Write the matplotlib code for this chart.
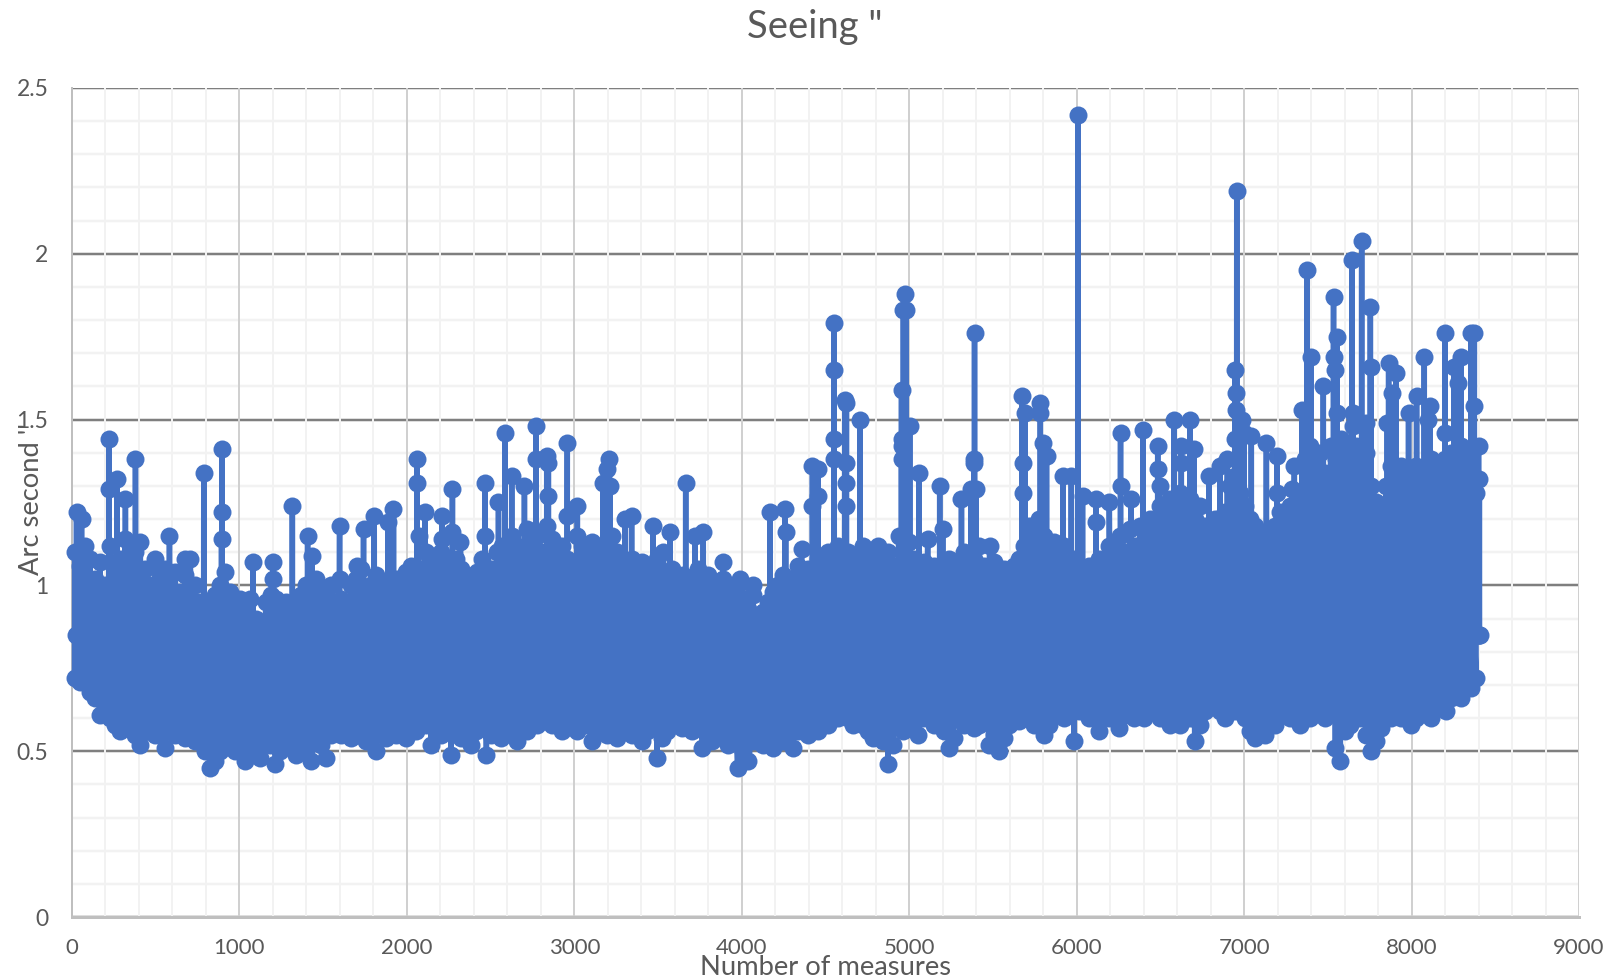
#!/usr/bin/env python
# -*- coding: utf-8 -*-
import matplotlib
matplotlib.use('Agg')
import matplotlib.pyplot as plt
import numpy as np
from matplotlib.ticker import MultipleLocator

# upper and lower edge of the dense band, one value per 30 measures
band_step = 30
band_high = [
    1.10, 1.06, 1.12, 1.08, 1.02, 1.07, 1.00, 1.12, 1.05, 1.08,
    1.14, 1.06, 1.10, 1.13, 1.05, 1.00, 1.08, 1.02, 1.05, 0.97,
    1.04, 0.98, 1.03, 1.08, 1.00, 0.95, 0.90, 0.93, 0.97, 1.00,
    1.04, 0.98, 0.93, 0.96, 0.92, 0.96, 0.90, 0.88, 0.95, 0.97,
    0.96, 0.92, 0.95, 0.90, 0.94, 0.97, 1.00, 0.96, 1.02, 0.98,
    0.97, 1.00, 0.94, 0.96, 0.93, 1.00, 1.02, 1.05, 0.98, 1.00,
    1.03, 0.98, 1.00, 0.96, 1.02, 1.00, 1.04, 1.06, 1.02, 1.05,
    1.10, 1.08, 1.05, 1.10, 1.06, 1.02, 1.08, 1.05, 1.03, 1.00,
    1.04, 1.08, 1.02, 1.05, 1.10, 1.12, 1.08, 1.15, 1.12, 1.10,
    1.17, 1.12, 1.15, 1.10, 1.18, 1.14, 1.10, 1.12, 1.08, 1.05,
    1.15, 1.12, 1.08, 1.13, 1.10, 1.07, 1.12, 1.15, 1.10, 1.08,
    1.05, 1.08, 1.03, 1.07, 1.02, 1.05, 1.08, 1.03, 1.00, 1.05,
    1.00, 1.03, 0.98, 1.02, 1.05, 1.00, 1.03, 0.98, 1.00, 1.02,
    1.00, 0.97, 1.00, 0.96, 0.93, 0.97, 0.90, 0.92, 0.95, 0.98,
    1.00, 1.03, 0.98, 1.02, 1.06, 1.00, 1.05, 1.02, 1.08, 1.05,
    1.10, 1.06, 1.12, 1.08, 1.10, 1.05, 1.08, 1.12, 1.06, 1.10,
    1.12, 1.08, 1.10, 1.06, 1.15, 1.10, 1.13, 1.08, 1.05, 1.07,
    1.04, 1.06, 1.02, 1.05, 1.08, 1.03, 1.06, 1.10, 1.05, 1.08,
    1.12, 1.06, 1.04, 1.07, 1.03, 1.05, 1.02, 1.06, 1.08, 1.12,
    1.18, 1.14, 1.20, 1.15, 1.10, 1.13, 1.08, 1.12, 1.05, 1.08,
    1.05, 1.02, 1.06, 1.03, 1.08, 1.05, 1.12, 1.08, 1.15, 1.10,
    1.17, 1.12, 1.18, 1.14, 1.20, 1.16, 1.24, 1.20, 1.26, 1.22,
    1.28, 1.22, 1.26, 1.20, 1.24, 1.18, 1.15, 1.20, 1.16, 1.22,
    1.30, 1.33, 1.28, 1.24, 1.20, 1.18, 1.15, 1.10, 1.14, 1.18,
    1.22, 1.18, 1.24, 1.20, 1.28, 1.38, 1.42, 1.36, 1.40, 1.34,
    1.42, 1.38, 1.44, 1.40, 1.38, 1.42, 1.36, 1.40, 1.30, 1.25,
    1.24, 1.30, 1.36, 1.32, 1.36, 1.34, 1.30, 1.36, 1.32, 1.34,
    1.38, 1.34, 1.36, 1.32, 1.40, 1.36, 1.42, 1.38, 1.30, 1.28,
]
band_low = [
    0.72, 0.71, 0.73, 0.68, 0.66, 0.61, 0.64, 0.60, 0.58, 0.56,
    0.58, 0.57, 0.55, 0.52, 0.56, 0.58, 0.55, 0.57, 0.51, 0.56,
    0.55, 0.57, 0.54, 0.55, 0.53, 0.56, 0.50, 0.45, 0.47, 0.50,
    0.52, 0.54, 0.50, 0.53, 0.47, 0.52, 0.50, 0.48, 0.53, 0.52,
    0.46, 0.50, 0.52, 0.54, 0.49, 0.53, 0.50, 0.47, 0.54, 0.52,
    0.48, 0.55, 0.57, 0.55, 0.58, 0.54, 0.55, 0.57, 0.53, 0.56,
    0.50, 0.56, 0.54, 0.58, 0.55, 0.57, 0.54, 0.58, 0.56, 0.60,
    0.58, 0.52, 0.57, 0.55, 0.58, 0.49, 0.56, 0.54, 0.58, 0.52,
    0.56, 0.58, 0.49, 0.55, 0.57, 0.54, 0.58, 0.56, 0.53, 0.57,
    0.56, 0.60, 0.58, 0.60, 0.62, 0.58, 0.60, 0.56, 0.61, 0.58,
    0.56, 0.60, 0.58, 0.53, 0.57, 0.60, 0.55, 0.58, 0.54, 0.58,
    0.57, 0.55, 0.59, 0.53, 0.56, 0.58, 0.48, 0.54, 0.56, 0.58,
    0.60, 0.57, 0.59, 0.56, 0.59, 0.51, 0.55, 0.53, 0.57, 0.55,
    0.52, 0.54, 0.45, 0.50, 0.47, 0.53, 0.56, 0.52, 0.55, 0.51,
    0.55, 0.53, 0.57, 0.51, 0.56, 0.58, 0.55, 0.57, 0.56, 0.60,
    0.58, 0.62, 0.60, 0.63, 0.60, 0.58, 0.62, 0.58, 0.56, 0.54,
    0.56, 0.53, 0.46, 0.52, 0.58, 0.56, 0.60, 0.58, 0.55, 0.60,
    0.60, 0.58, 0.62, 0.56, 0.51, 0.54, 0.60, 0.58, 0.62, 0.57,
    0.58, 0.60, 0.52, 0.55, 0.50, 0.54, 0.58, 0.60, 0.59, 0.62,
    0.60, 0.58, 0.62, 0.55, 0.58, 0.61, 0.62, 0.60, 0.64, 0.53,
    0.62, 0.64, 0.60, 0.63, 0.56, 0.62, 0.60, 0.63, 0.57, 0.61,
    0.64, 0.60, 0.63, 0.60, 0.65, 0.62, 0.60, 0.62, 0.58, 0.60,
    0.58, 0.62, 0.60, 0.53, 0.58, 0.62, 0.66, 0.64, 0.62, 0.60,
    0.65, 0.62, 0.66, 0.60, 0.56, 0.54, 0.57, 0.55, 0.60, 0.58,
    0.62, 0.66, 0.60, 0.63, 0.58, 0.62, 0.60, 0.64, 0.62, 0.60,
    0.62, 0.51, 0.47, 0.56, 0.58, 0.62, 0.60, 0.55, 0.50, 0.53,
    0.57, 0.62, 0.60, 0.63, 0.60, 0.62, 0.58, 0.60, 0.64, 0.62,
    0.60, 0.63, 0.64, 0.62, 0.66, 0.68, 0.66, 0.70, 0.69, 0.72,
]

# single measures that stand out above the band
peak_x = [
    27, 57, 220, 220, 270, 319, 379, 582, 677, 787, 896, 896, 893, 1080, 1200,
    1200, 1316, 1407, 1433, 1598, 1598, 1700, 1741, 1805, 1887, 1920, 2060,
    2060, 2070, 2109, 2209, 2209, 2272, 2272, 2320, 2467, 2467, 2547, 2586,
    2626, 2702, 2770, 2770, 2835, 2840, 2845, 2958, 2958, 3018, 3170, 3193,
    3209, 3213, 3303, 3342, 3471, 3532, 3571, 3665, 3720, 3770, 3889, 3989,
    4068, 4168, 4257, 4262, 4357, 4422, 4422, 4456, 4456, 4552, 4552, 4552,
    4552, 4615, 4625, 4625, 4625, 4625, 4705, 4954, 4955, 4955, 4955, 4965,
    4975, 4980, 5003, 5058, 5110, 5182, 5200, 5312, 5370, 5387, 5387, 5390,
    5400, 5480, 5675, 5680, 5680, 5690, 5783, 5783, 5800, 5820, 5918, 5968,
    6007, 6035, 6115, 6115, 6195, 6262, 6262, 6325, 6395, 6484, 6484, 6495,
    6580, 6625, 6625, 6678, 6700, 6789, 6855, 6900, 6945, 6945, 6950, 6952,
    6956, 6990, 7000, 7043, 7133, 7197, 7197, 7285, 7300, 7345, 7376, 7400,
    7473, 7534, 7534, 7545, 7555, 7555, 7644, 7650, 7650, 7702, 7725, 7754,
    7758, 7855, 7863, 7885, 7907, 7982, 8030, 8076, 8100, 8110, 8201, 8201,
    8201, 8255, 8275, 8295, 8355, 8375, 8375, 8400, 8405,
]
peak_y = [
    1.22, 1.20, 1.44, 1.29, 1.32, 1.26, 1.38, 1.15, 1.08, 1.34, 1.41, 1.22, 1.14, 1.07, 1.07,
    1.02, 1.24, 1.15, 1.09, 1.18, 1.02, 1.06, 1.17, 1.21, 1.19, 1.23, 1.38,
    1.31, 1.15, 1.22, 1.21, 1.14, 1.29, 1.16, 1.13, 1.31, 1.15, 1.25, 1.46,
    1.33, 1.30, 1.48, 1.38, 1.39, 1.27, 1.37, 1.43, 1.21, 1.24, 1.31, 1.35,
    1.38, 1.30, 1.20, 1.21, 1.18, 1.10, 1.16, 1.31, 1.15, 1.16, 1.07, 1.02,
    1.00, 1.22, 1.23, 1.16, 1.11, 1.36, 1.24, 1.35, 1.27, 1.79, 1.65, 1.44,
    1.38, 1.56, 1.55, 1.37, 1.31, 1.24, 1.50, 1.59, 1.44, 1.42, 1.38, 1.83,
    1.88, 1.83, 1.48, 1.34, 1.14, 1.30, 1.17, 1.26, 1.29, 1.38, 1.37, 1.76,
    1.29, 1.12, 1.57, 1.37, 1.28, 1.52, 1.55, 1.52, 1.43, 1.39, 1.33, 1.33,
    2.42, 1.27, 1.26, 1.19, 1.25, 1.46, 1.30, 1.26, 1.47, 1.42, 1.35, 1.30,
    1.50, 1.42, 1.37, 1.50, 1.41, 1.33, 1.36, 1.38, 1.65, 1.44, 1.58, 1.53,
    2.19, 1.50, 1.46, 1.45, 1.43, 1.39, 1.28, 1.29, 1.36, 1.53, 1.95, 1.69,
    1.60, 1.87, 1.69, 1.65, 1.75, 1.52, 1.98, 1.52, 1.48, 2.04, 1.49, 1.84,
    1.66, 1.49, 1.67, 1.58, 1.64, 1.52, 1.57, 1.69, 1.50, 1.54, 1.76, 1.46,
    1.38, 1.66, 1.61, 1.69, 1.76, 1.76, 1.54, 1.42, 1.32,
]
# level the series comes back to between two peaks
peak_base = 0.85

xticks = [0, 1000, 2000, 3000, 4000, 5000, 6000, 7000, 8000, 9000]
yticks = [0, 0.5, 1, 1.5, 2, 2.5]
ytick_labels = ['0', '0.5', '1', '1.5', '2', '2.5']

text_color = '#595959'
line_color = '#4472c4'
px = 0.72  # points per pixel at dpi 100

plt.rcParams['font.family'] = ['Lato', 'DejaVu Sans']

# zigzag through the band, then add the peaks in measure order
x = []
y = []
for i, (high, low) in enumerate(zip(band_high, band_low)):
    pos = 15 + i * band_step
    x += [pos, pos + 1]
    y += [low, high]
for pos, value in zip(peak_x, peak_y):
    x += [pos - 1, pos, pos + 1]
    y += [peak_base, value, peak_base]
x = np.array(x)
y = np.array(y)
order = np.argsort(x, kind='stable')

fig = plt.figure(figsize=(16.15, 9.8), dpi=100)
ax = fig.add_axes([72 / 1615, 1 - 917 / 980, (1579 - 72) / 1615, (917 - 88) / 980])

ax.plot(x[order], y[order], color=line_color, lw=5.5 * px, marker='o',
        ms=18 * px, mew=0, clip_on=False, zorder=3, solid_joinstyle='round')

ax.set_xlim(0, 9000)
ax.set_ylim(0, 2.5)
ax.set_xticks(xticks)
ax.set_yticks(yticks)
ax.set_yticklabels(ytick_labels)
ax.xaxis.set_minor_locator(MultipleLocator(200))
ax.yaxis.set_minor_locator(MultipleLocator(0.1))

ax.grid(True, which='major', axis='y', color='#7f7f7f', lw=2.5 * px)
ax.grid(True, which='minor', axis='y', color='#f2f2f2', lw=2.5 * px)
ax.grid(True, which='major', axis='x', color='#d0d0d0', lw=2 * px)
ax.grid(True, which='minor', axis='x', color='#f2f2f2', lw=2 * px)
ax.set_axisbelow(True)
ax.yaxis.set_zorder(0.4)
ax.xaxis.set_zorder(0.45)

for name in ['top', 'right']:
    ax.spines[name].set_visible(False)
ax.spines['left'].set_color('#bfbfbf')
ax.spines['left'].set_linewidth(2 * px)
ax.spines['bottom'].set_color('#bfbfbf')
ax.spines['bottom'].set_linewidth(3 * px)

ax.tick_params(which='both', length=0)
ax.tick_params(axis='x', labelsize=16, labelcolor=text_color, pad=15)
ax.tick_params(axis='y', labelsize=16.5, labelcolor=text_color, pad=17)

fig.text(815 / 1615, 1 - 27 / 980, 'Seeing "', fontsize=27.5, color=text_color,
         ha='center', va='center')
fig.text(826 / 1615, 1 - 967 / 980, 'Number of measures', fontsize=19.7,
         color=text_color, ha='center', va='center')
fig.text(32 / 1615, 1 - 499 / 980, "Arc second ''", fontsize=19.7,
         color=text_color, ha='center', va='center', rotation=90)

fig.savefig('out.png', dpi=100)
